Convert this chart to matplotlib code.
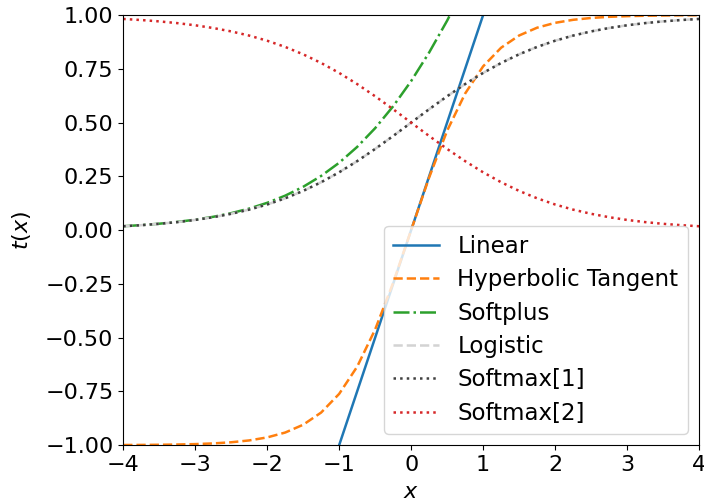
import matplotlib
matplotlib.use('Agg')
import matplotlib.pyplot as plt

# sampled curve values, x from -4 to 4 in steps of 0.25
x_vals = [-4.0, -3.75, -3.5, -3.25, -3.0, -2.75, -2.5, -2.25, -2.0, -1.75, -1.5, -1.25,
          -1.0, -0.75, -0.5, -0.25, 0.0, 0.25, 0.5, 0.75, 1.0, 1.25, 1.5, 1.75,
          2.0, 2.25, 2.5, 2.75, 3.0, 3.25, 3.5, 3.75, 4.0]

linear_x = [-4.0, 4.0]
linear_y = [-4.0, 4.0]

tanh_y = [-0.9993, -0.9989, -0.9982, -0.9970, -0.9951, -0.9919, -0.9866, -0.9780,
          -0.9640, -0.9414, -0.9051, -0.8483, -0.7616, -0.6351, -0.4621, -0.2449,
          0.0, 0.2449, 0.4621, 0.6351, 0.7616, 0.8483, 0.9051, 0.9414,
          0.9640, 0.9780, 0.9866, 0.9919, 0.9951, 0.9970, 0.9982, 0.9989, 0.9993]

softplus_y = [0.0181, 0.0233, 0.0298, 0.0381, 0.0486, 0.0619, 0.0789, 0.1002,
              0.1269, 0.1602, 0.2014, 0.2520, 0.3133, 0.3869, 0.4741, 0.5759,
              0.6931, 0.8259, 0.9741, 1.1369, 1.3133, 1.5020, 1.7014, 1.9102,
              2.1269, 2.3502, 2.5789, 2.8119, 3.0486, 3.2881, 3.5298, 3.7733, 4.0181]

logistic_y = [0.0180, 0.0230, 0.0293, 0.0373, 0.0474, 0.0601, 0.0759, 0.0953,
              0.1192, 0.1480, 0.1824, 0.2227, 0.2689, 0.3208, 0.3775, 0.4378,
              0.5, 0.5622, 0.6225, 0.6792, 0.7311, 0.7773, 0.8176, 0.8520,
              0.8808, 0.9047, 0.9241, 0.9399, 0.9526, 0.9627, 0.9707, 0.9770, 0.9820]

softmax1_y = logistic_y
softmax2_y = logistic_y[::-1]

plt.rcParams['font.size'] = 16
plt.rcParams['lines.linewidth'] = 1.8

fig = plt.figure(figsize=(7.04, 5.03), dpi=100)
ax = fig.add_axes([0.175, 0.115, 0.818, 0.855])

ax.plot(linear_x, linear_y, '-', color='C0', label='Linear')
ax.plot(x_vals, tanh_y, '--', color='C1', label='Hyperbolic Tangent')
ax.plot(x_vals, softplus_y, '-.', color='C2', label='Softplus')
ax.plot(x_vals, logistic_y, '--', color='lightgray', label='Logistic')
ax.plot(x_vals, softmax1_y, ':', color='0.25', label='Softmax[1]')
ax.plot(x_vals, softmax2_y, ':', color='C3', label='Softmax[2]')

ax.set_xlim(-4, 4)
ax.set_ylim(-1, 1)
ax.set_xlabel('$x$', labelpad=5)
ax.set_ylabel('$t(x)$', labelpad=9)
ax.legend(loc='lower right', fontsize=16.5, labelspacing=0.45)

fig.savefig('out.png', dpi=100)
